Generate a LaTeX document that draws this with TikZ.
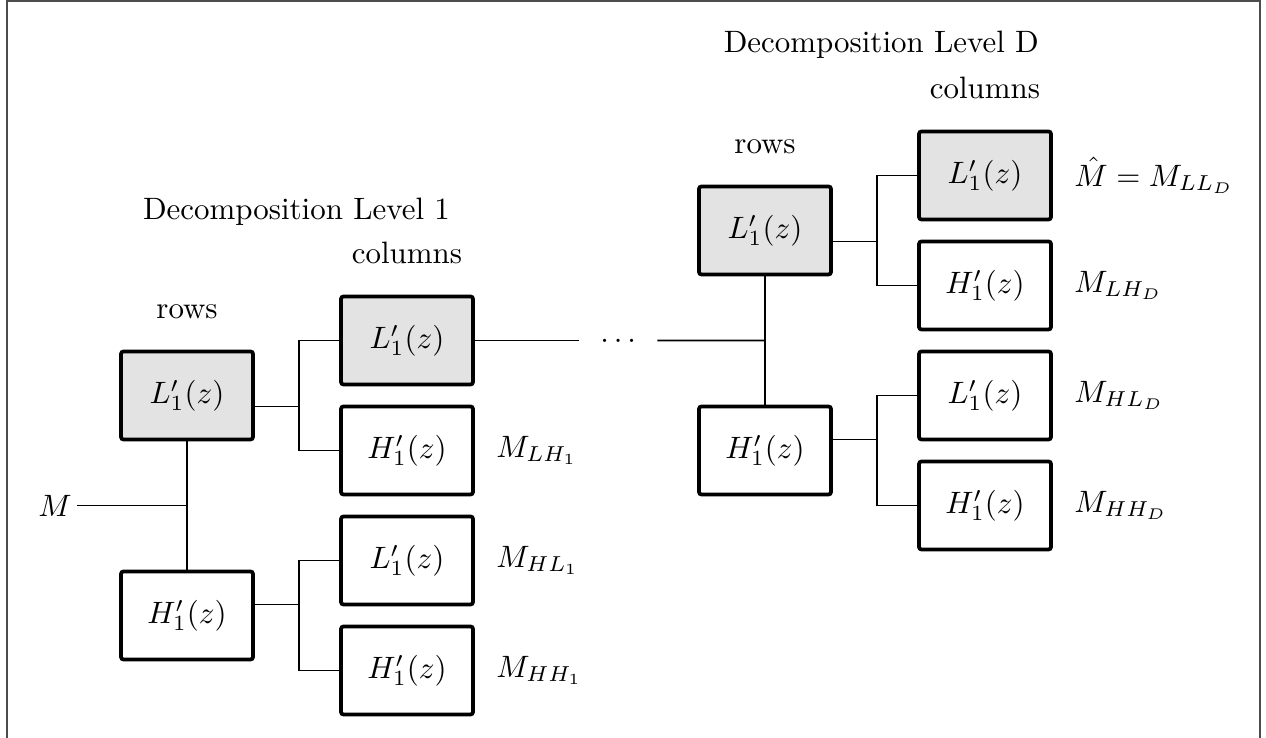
\documentclass[tikz,border=0pt]{standalone}
\usetikzlibrary{positioning}

\begin{document}
\begin{tikzpicture}[node distance=1.25cm,
  filt/.style={draw,line width=1.2pt,rounded corners=0.8pt,minimum width=1.5cm,minimum height=1cm},
  lowfilt/.style={filt,fill=black!11},
  wire/.style={line width=0.6pt}]
\useasboundingbox (-2.125,-3.892) rectangle (12.261,4.494);
\draw[black!70,line width=0.6pt] (-2.045,-4) -- (-2.045,4.483) -- (12.193,4.483) -- (12.193,-4);

% level 1
\node[lowfilt] (r1L) at (0,0) {$L'_1(z)$};
\node[filt,below of=r1L,node distance=2.5cm] (r1H) {$H'_1(z)$};
\node[lowfilt,right of=r1L,node distance=2.5cm,yshift=0.625cm] (c1LL) {$L'_1(z)$};
\node[filt,below of=c1LL] (c1LH) {$H'_1(z)$};
\node[filt,below of=c1LH] (c1HL) {$L'_1(z)$};
\node[filt,below of=c1HL] (c1HH) {$H'_1(z)$};

\node[above=0.22cm of r1L] (rows1) {rows};
\node[above=0.22cm of c1LL] (cols1) {columns};
\node[anchor=base] (lvl1) at (1.244,2.0) {Decomposition Level 1};

\node[right=0.12cm of c1LH] (mLH1) {$M_{LH_1}$};
\node[right=0.12cm of c1HL] (mHL1) {$M_{HL_1}$};
\node[right=0.12cm of c1HH] (mHH1) {$M_{HH_1}$};

\coordinate (j1) at ([yshift=-1.25cm]r1L.center);
\node[left=1.25cm of j1,inner xsep=1.5pt] (min) {$M$};
\coordinate (b1U) at ([xshift=5mm,yshift=-1.25mm]r1L.east);
\coordinate (b1D) at ([xshift=5mm,yshift=1.25mm]r1H.east);

\draw[wire] (min) -- (j1);
\draw[wire] (r1L) -- (r1H);
\draw[wire] (r1L.east |- b1U) -- (b1U);
\draw[wire] (c1LL) -| (b1U) |- (c1LH);
\draw[wire] (r1H.east |- b1D) -- (b1D);
\draw[wire] (c1HL) -| (b1D) |- (c1HH);

% level D
\node[lowfilt,right of=r1L,node distance=6.568cm,yshift=1.875cm] (rDL) {$L'_1(z)$};
\node[filt,below of=rDL,node distance=2.5cm] (rDH) {$H'_1(z)$};
\node[lowfilt,right of=rDL,node distance=2.5cm,yshift=0.625cm] (cDLL) {$L'_1(z)$};
\node[filt,below of=cDLL] (cDLH) {$H'_1(z)$};
\node[filt,below of=cDLH] (cDHL) {$L'_1(z)$};
\node[filt,below of=cDHL] (cDHH) {$H'_1(z)$};

\node[above=0.22cm of rDL] (rowsD) {rows};
\node[above=0.22cm of cDLL] (colsD) {columns};
\node[anchor=base] (lvlD) at (7.89,3.9) {Decomposition Level D};

\node[right=0.12cm of cDLL] (mLLD) {$\hat{M} = M_{LL_D}$};
\node[right=0.12cm of cDLH] (mLHD) {$M_{LH_D}$};
\node[right=0.12cm of cDHL] (mHLD) {$M_{HL_D}$};
\node[right=0.12cm of cDHH] (mHHD) {$M_{HH_D}$};

\coordinate (jD) at ([yshift=-1.25cm]rDL.center);
\node[inner xsep=0.235cm,text height=1.1pt,text depth=0pt] (dots) at (4.9,0.625) {.\kern1.6pt.\kern1.6pt.};
\coordinate (bDU) at ([xshift=5mm,yshift=-1.25mm]rDL.east);
\coordinate (bDD) at ([xshift=5mm,yshift=1.25mm]rDH.east);

\draw[wire] (c1LL) -- (dots);
\draw[wire] (dots) -- (jD);
\draw[wire] (rDL) -- (rDH);
\draw[wire] (rDL.east |- bDU) -- (bDU);
\draw[wire] (cDLL) -| (bDU) |- (cDLH);
\draw[wire] (rDH.east |- bDD) -- (bDD);
\draw[wire] (cDHL) -| (bDD) |- (cDHH);
\end{tikzpicture}
\end{document}
